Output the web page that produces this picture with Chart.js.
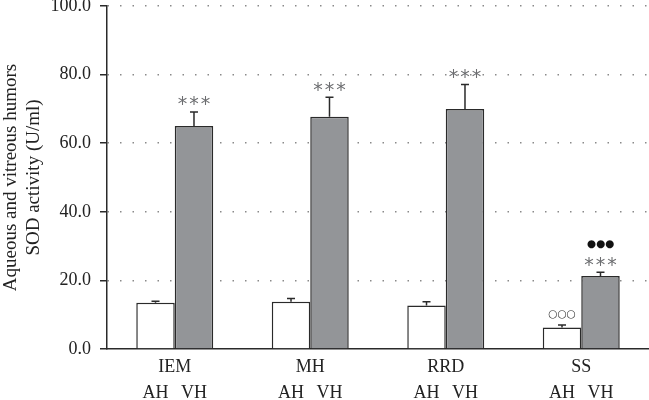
<!DOCTYPE html>
<html><head><meta charset="utf-8">
<script src="https://cdn.jsdelivr.net/npm/chart.js@4"></script>
<style>html,body{margin:0;padding:0;background:#fff}canvas{display:block}</style>
</head><body>
<canvas id="c" width="649" height="400"></canvas>
<script>
const categories = ['IEM', 'MH', 'RRD', 'SS'];
const seriesNames = ['AH', 'VH'];
const ahValues = [13.5, 13.8, 12.7, 6.3];
const ahErrors = [0.4, 0.9, 1.1, 0.7];
const vhValues = [65.0, 67.7, 70.0, 21.3];
const vhErrors = [4.1, 5.7, 7.1, 1.1];
const yTickValues = [0, 20, 40, 60, 80, 100];
const yTitle = ['Aqueous and vitreous humors', 'SOD activity (U/ml)'];
const ahMarks = ['', '', '', '\u25CB\u25CB\u25CB'];
const vhMarks = ['***', '***', '***', '***'];
const vhMarks2 = ['', '', '', '\u25CF\u25CF\u25CF'];

const SERIF = '"Liberation Serif", "Times New Roman", serif';
const errorsBy = [ahErrors, vhErrors];

const overlayPlugin = {
  id: 'overlay',
  afterDatasetsDraw(chart) {
    const ctx = chart.ctx;
    const y = chart.scales.y;
    ctx.save();
    chart.data.datasets.forEach((ds, di) => {
      const meta = chart.getDatasetMeta(di);
      meta.data.forEach((bar, i) => {
        const top = y.getPixelForValue(ds.data[i] + errorsBy[di][i]);
        ctx.strokeStyle = '#2a2a2a';
        ctx.lineWidth = 1.5;
        ctx.beginPath();
        ctx.moveTo(bar.x, bar.y);
        ctx.lineTo(bar.x, top);
        ctx.moveTo(bar.x - 4, top);
        ctx.lineTo(bar.x + 4, top);
        ctx.stroke();
      });
    });
    const ahMeta = chart.getDatasetMeta(0), vhMeta = chart.getDatasetMeta(1);
    ctx.textAlign = 'center';
    categories.forEach((c, i) => {
      const vTop = y.getPixelForValue(vhValues[i] + vhErrors[i]);
      const aTop = y.getPixelForValue(ahValues[i] + ahErrors[i]);
      if (vhMarks[i]) {
        ctx.fillStyle = '#6d6e71';
        ctx.font = '19px "DejaVu Sans"';
        ctx.letterSpacing = '2px';
        ctx.textBaseline = 'middle';
        ctx.fillText(vhMarks[i], vhMeta.data[i].x + 1, vTop - 10.5 + 4);
        ctx.letterSpacing = '0px';
      }
      if (vhMarks2[i]) {
        ctx.fillStyle = '#111';
        ctx.font = '10.5px "DejaVu Sans"';
        ctx.textBaseline = 'middle';
        ctx.fillText(vhMarks2[i], vhMeta.data[i].x, vTop - 28);
      }
      if (ahMarks[i]) {
        ctx.fillStyle = '#333';
        ctx.font = '10.5px "DejaVu Sans"';
        ctx.textBaseline = 'middle';
        ctx.fillText(ahMarks[i], ahMeta.data[i].x, aTop - 11);
      }
      ctx.fillStyle = '#222';
      ctx.font = '18px ' + SERIF;
      ctx.textBaseline = 'middle';
      ctx.fillText(seriesNames[0], ahMeta.data[i].x, 393);
      ctx.fillText(seriesNames[1], vhMeta.data[i].x, 393);
    });
    ctx.restore();
  }
};

new Chart(document.getElementById('c'), {
  type: 'bar',
  data: {
    labels: categories,
    datasets: [
      { label: seriesNames[0], data: ahValues, backgroundColor: '#ffffff', borderColor: '#2a2a2a', borderWidth: 1.5, borderSkipped: 'bottom' },
      { label: seriesNames[1], data: vhValues, backgroundColor: '#939598', borderColor: '#2a2a2a', borderWidth: 1.5, borderSkipped: 'bottom' }
    ]
  },
  options: {
    responsive: false,
    animation: false,
    layout: { padding: { top: 6, right: 0, bottom: 0, left: 0 } },
    plugins: { legend: { display: false }, tooltip: { enabled: false } },
    datasets: { bar: { categoryPercentage: 0.568, barPercentage: 1.0 } },
    scales: {
      x: {
        grid: { display: false, drawTicks: false },
        border: { display: true, color: '#2a2a2a', width: 1.5 },
        ticks: { color: '#222', font: { family: SERIF, size: 18 }, padding: 7 },
        afterFit: s => { s.height = 51; s.paddingLeft = 0; s.paddingRight = 0; }
      },
      y: {
        min: 0, max: 100,
        afterBuildTicks: s => { s.ticks = yTickValues.map(v => ({ value: v })); },
        ticks: { color: '#222', font: { family: SERIF, size: 18 }, padding: 9, callback: v => Number(v).toFixed(1) },
        grid: {
          color: c => c.tick && c.tick.value === 0 ? 'rgba(0,0,0,0)' : '#8a8a8a',
          lineWidth: 1.5,
          tickLength: 7,
          tickColor: '#2a2a2a',
          tickWidth: 1.5,
          tickBorderDash: []
        },
        border: { display: true, color: '#2a2a2a', width: 1.5, dash: [1.5, 11] },
        title: { display: true, text: yTitle, color: '#222', font: { family: SERIF, size: 19, lineHeight: 1.2 }, padding: { top: 0, bottom: 0 } },
        afterFit: s => { s.width = 107; s.paddingTop = 0; s.paddingBottom = 0; }
      }
    }
  },
  plugins: [overlayPlugin]
});
</script>
</body></html>
